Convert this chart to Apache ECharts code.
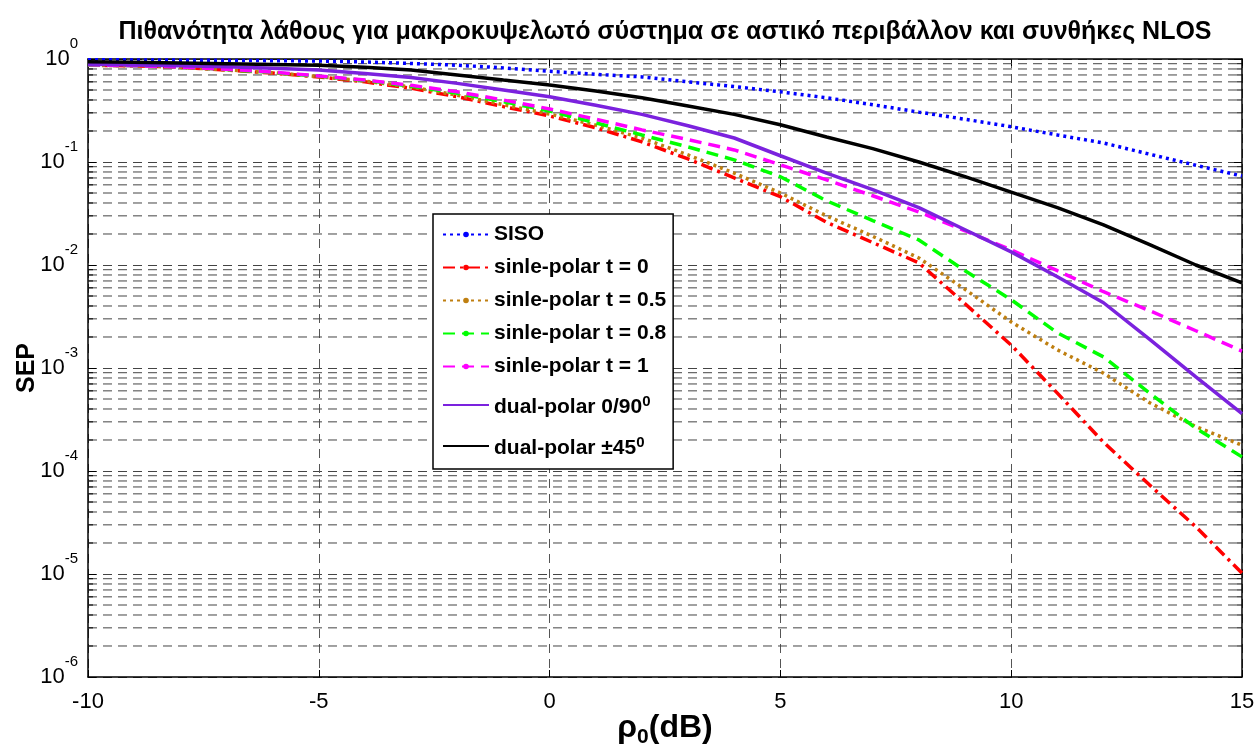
<!DOCTYPE html>
<html>
<head>
<meta charset="utf-8">
<title>SEP</title>
<script src="https://cdn.jsdelivr.net/npm/echarts@6/dist/echarts.min.js"></script>
<style>
  html, body { margin: 0; padding: 0; background: #ffffff; }
  #chart { width: 1255px; height: 753px; }
</style>
</head>
<body>
<div id="chart"></div>
<script>
// SNR axis (dB)
const snrDb = [-10, -9, -8, -7, -6, -5, -4, -3, -2, -1, 0, 1, 2, 3, 4, 5, 6, 7, 8, 9, 10, 11, 12, 13, 14, 15];

// Symbol error probability per configuration
const sepSiso = [0.985, 0.98, 0.975, 0.97, 0.963, 0.955, 0.935, 0.905, 0.87, 0.82, 0.76, 0.71, 0.67, 0.60, 0.54, 0.48, 0.42, 0.36, 0.305, 0.26, 0.22, 0.183, 0.153, 0.119, 0.093, 0.073];
const sepSingleT0 = [0.87, 0.86, 0.83, 0.78, 0.73, 0.67, 0.60, 0.52, 0.43, 0.345, 0.28, 0.215, 0.157, 0.107, 0.070, 0.046, 0.026, 0.0165, 0.0105, 0.0042, 0.00167, 0.00057, 0.00019, 0.000073, 0.0000287, 0.0000102];
const sepSingleT05 = [0.87, 0.86, 0.83, 0.785, 0.735, 0.675, 0.61, 0.535, 0.445, 0.36, 0.292, 0.228, 0.171, 0.117, 0.078, 0.050, 0.030, 0.019, 0.0117, 0.0058, 0.0028, 0.0015, 0.00089, 0.00046, 0.00027, 0.000178];
const sepSingleT08 = [0.875, 0.86, 0.835, 0.79, 0.74, 0.68, 0.62, 0.545, 0.465, 0.385, 0.313, 0.24, 0.183, 0.14, 0.105, 0.072, 0.042, 0.027, 0.0175, 0.0088, 0.0046, 0.0022, 0.00128, 0.00057, 0.00026, 0.000137];
const sepSingleT1 = [0.88, 0.86, 0.835, 0.795, 0.745, 0.685, 0.625, 0.555, 0.48, 0.40, 0.327, 0.26, 0.205, 0.165, 0.131, 0.094, 0.067, 0.047, 0.0327, 0.0215, 0.014, 0.0088, 0.0055, 0.0036, 0.0023, 0.00146];
const sepDual090 = [0.89, 0.875, 0.86, 0.84, 0.815, 0.78, 0.725, 0.66, 0.58, 0.50, 0.43, 0.355, 0.29, 0.225, 0.171, 0.115, 0.078, 0.054, 0.036, 0.022, 0.0134, 0.0077, 0.0043, 0.0019, 0.00082, 0.00036];
const sepDual45 = [0.94, 0.93, 0.915, 0.90, 0.885, 0.87, 0.83, 0.78, 0.70, 0.625, 0.56, 0.49, 0.42, 0.35, 0.29, 0.23, 0.175, 0.135, 0.10, 0.072, 0.051, 0.036, 0.0245, 0.0158, 0.0100, 0.0067];

const seriesNames = ['SISO', 'sinle-polar t = 0', 'sinle-polar t = 0.5', 'sinle-polar t = 0.8', 'sinle-polar t = 1', 'dual-polar 0/90', 'dual-polar \u00b145'];
// entries whose label carries a superscript degree mark
const degreeNames = ['dual-polar 0/90', 'dual-polar \u00b145'];

const X_MIN = -10, X_MAX = 15, X_STEP = 5;
const Y_MIN = 1e-6, Y_MAX = 1;

// minor log grid positions (2..9 within each decade)
const minorGrid = [];
for (let e = -6; e < 0; e++) {
  for (let m = 2; m <= 9; m++) minorGrid.push(m * Math.pow(10, e));
}

const FONT = '"Liberation Sans", Arial, Helvetica, sans-serif';
const GRID_DASH = [9, 6];

function lineSeries(name, values, color, dash, withDot) {
  return {
    name: name,
    type: 'line',
    data: snrDb.map((x, i) => [x, values[i]]),
    showSymbol: false,
    symbol: withDot ? 'circle' : 'none',
    symbolSize: 6,
    itemStyle: { color: color },
    lineStyle: { color: color, width: 3.5, type: dash, cap: 'butt' },
    z: 3,
    animation: false,
    clip: true
  };
}

const chart = echarts.init(document.getElementById('chart'), null, { renderer: 'canvas' });

const option = {
  backgroundColor: '#ffffff',
  animation: false,
  textStyle: { fontFamily: FONT },
  graphic: [{
    type: 'text',
    x: 665, y: 32,
    style: {
      text: 'Πιθανότητα λάθους για μακροκυψελωτό σύστημα σε αστικό περιβάλλον και συνθήκες NLOS',
      font: 'bold 25px ' + FONT,
      fill: '#000',
      textAlign: 'center',
      textVerticalAlign: 'middle'
    }
  }],
  grid: { left: 88, right: 13, top: 59, bottom: 76, containLabel: false, outerBoundsMode: 'none' },
  legend: {
    orient: 'vertical',
    left: 433, top: 214,
    padding: [10, 7, 10, 9],
    itemGap: 12,
    itemWidth: 46,
    itemHeight: 7,
    backgroundColor: '#ffffff',
    borderColor: '#000',
    borderWidth: 1.5,
    borderRadius: 0,
    data: seriesNames.map(n => degreeNames.indexOf(n) >= 0
      ? { name: n, itemStyle: { opacity: 0 } }
      : { name: n }),
    formatter: function (n) {
      // degree entries sit a little lower than their line sample
      return degreeNames.indexOf(n) >= 0 ? '{g| }\n{t|' + n + '}{s|0}' : '{t|' + n + '}';
    },
    textStyle: {
      fontFamily: FONT, fontSize: 21, fontWeight: 'bold', color: '#000',
      rich: {
        g: { fontFamily: FONT, fontSize: 5, lineHeight: 5, color: '#000' },
        t: { fontFamily: FONT, fontSize: 21, fontWeight: 'bold', color: '#000' },
        s: { fontFamily: FONT, fontSize: 15, fontWeight: 'bold', color: '#000', padding: [0, 0, 12, 0] }
      }
    }
  },
  xAxis: [{
    type: 'value',
    min: X_MIN, max: X_MAX, interval: X_STEP,
    name: '{r|ρ}{s|0}{r|(dB)}',
    nameLocation: 'middle',
    nameGap: 32,
    nameMoveOverlap: false,
    nameTextStyle: {
      rich: {
        r: { fontFamily: FONT, fontSize: 32, fontWeight: 'bold', color: '#000' },
        s: { fontFamily: FONT, fontSize: 21, fontWeight: 'bold', color: '#000', padding: [18, 0, 0, 0] }
      }
    },
    axisLine: { show: true, onZero: false, lineStyle: { color: '#000', width: 1.5 } },
    axisTick: { show: true, inside: true, length: 7, lineStyle: { color: '#000' } },
    axisLabel: { fontFamily: FONT, fontSize: 22, color: '#000', margin: 14 },
    splitLine: { show: true, lineStyle: { color: '#555', width: 1, type: GRID_DASH } }
  }, {
    type: 'value',
    position: 'top',
    min: X_MIN, max: X_MAX, interval: X_STEP,
    axisLine: { show: true, onZero: false, lineStyle: { color: '#000', width: 1.5 } },
    axisTick: { show: true, inside: true, length: 7, lineStyle: { color: '#000' } },
    axisLabel: { show: false },
    splitLine: { show: false }
  }],
  yAxis: [{
    type: 'log',
    logBase: 10,
    min: Y_MIN, max: Y_MAX,
    splitNumber: 6,
    name: 'SEP',
    nameLocation: 'middle',
    nameRotate: 90,
    nameGap: 48,
    nameMoveOverlap: false,
    nameTextStyle: { fontFamily: FONT, fontSize: 25, fontWeight: 'bold', color: '#000' },
    axisLine: { show: true, onZero: false, lineStyle: { color: '#000', width: 1.5 } },
    axisTick: { show: true, inside: true, length: 8, lineStyle: { color: '#000' } },
    axisLabel: {
      margin: 10,
      formatter: function (v) { return '{b|10}{s|' + Math.round(Math.log10(v)) + '}'; },
      rich: {
        b: { fontFamily: FONT, fontSize: 22, color: '#000' },
        s: { fontFamily: FONT, fontSize: 15, color: '#000', padding: [0, 0, 30, 0] }
      }
    },
    splitLine: { show: true, lineStyle: { color: '#444', width: 1, type: GRID_DASH } }
  }, {
    type: 'log',
    logBase: 10,
    position: 'right',
    min: Y_MIN, max: Y_MAX,
    splitNumber: 6,
    axisLine: { show: true, onZero: false, lineStyle: { color: '#000', width: 1.5 } },
    axisTick: { show: true, inside: true, length: 8, lineStyle: { color: '#000' } },
    axisLabel: { show: false },
    splitLine: { show: false }
  }],
  series: [
    {
      name: 'minor-grid',
      type: 'custom',
      xAxisIndex: 0, yAxisIndex: 0,
      silent: true,
      z: 1,
      data: minorGrid.map(v => [X_MIN, v]),
      encode: { x: 0, y: 1 },
      renderItem: function (params, api) {
        const v = api.value(1);
        const a = api.coord([X_MIN, v]);
        const b = api.coord([X_MAX, v]);
        return {
          type: 'group',
          children: [{
            type: 'line',
            shape: { x1: a[0], y1: a[1], x2: b[0], y2: b[1] },
            style: { stroke: '#444', lineWidth: 1, lineDash: GRID_DASH }
          }, {
            type: 'line',
            shape: { x1: a[0], y1: a[1], x2: a[0] + 5, y2: a[1] },
            style: { stroke: '#000', lineWidth: 1 }
          }, {
            type: 'line',
            shape: { x1: b[0] - 5, y1: b[1], x2: b[0], y2: b[1] },
            style: { stroke: '#000', lineWidth: 1 }
          }]
        };
      }
    },
    lineSeries(seriesNames[0], sepSiso, '#0000ff', [3, 4], true),
    lineSeries(seriesNames[1], sepSingleT0, '#ff0000', [12, 5, 3, 5], true),
    lineSeries(seriesNames[2], sepSingleT05, '#bf7f10', [3, 4], true),
    lineSeries(seriesNames[3], sepSingleT08, '#00ff00', [12, 7], true),
    lineSeries(seriesNames[4], sepSingleT1, '#ff00ff', [12, 7], true),
    lineSeries(seriesNames[5], sepDual090, '#7b22de', 'solid', false),
    lineSeries(seriesNames[6], sepDual45, '#000000', 'solid', false)
  ]
};

chart.setOption(option);
</script>
</body>
</html>
